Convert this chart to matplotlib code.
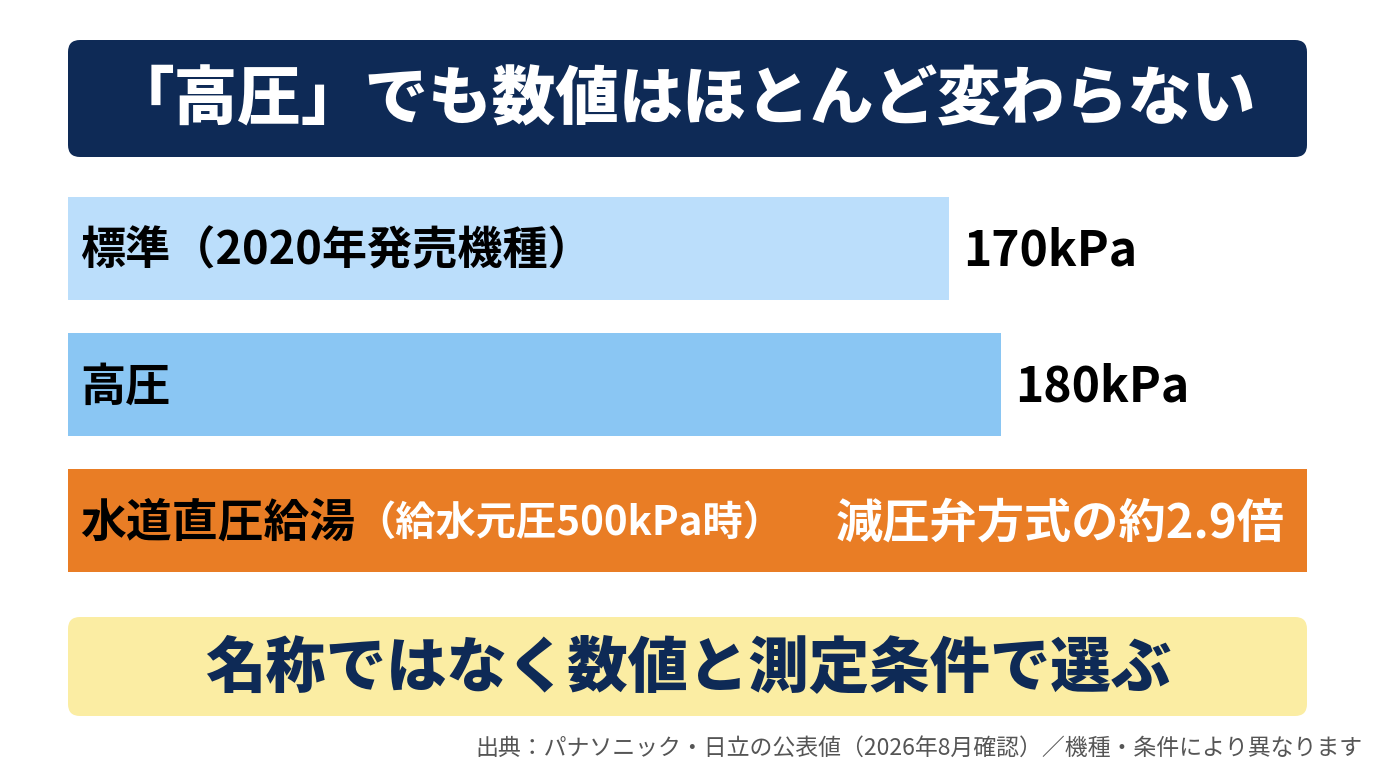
import matplotlib
matplotlib.use("Agg")
import matplotlib.pyplot as plt
from matplotlib.patches import FancyBboxPatch

plt.rcParams['font.family'] = ['Noto Sans CJK JP', 'DejaVu Sans']

# データ
title = "「高圧」でも数値はほとんど変わらない"
labels = ["標準（2020年発売機種）", "高圧", "水道直圧給湯"]
values = [170, 180]          # kPa
unit = "kPa"
sub_label = "（給水元圧500kPa時）"
ratio_text = "減圧弁方式の約2.9倍"
message = "名称ではなく数値と測定条件で選ぶ"
source = "出典：パナソニック・日立の公表値（2026年8月確認）／機種・条件により異なります"

NAVY = "#0E2A56"
bar_colors = ["#BBDEFB", "#8AC6F3", "#E97D25"]
YELLOW = "#FBEDA3"

W, H = 1376, 768
fig = plt.figure(figsize=(W / 100, H / 100), dpi=100)

# 背景用の全面軸（ピクセル座標）
bg = fig.add_axes([0, 0, 1, 1])
bg.set_xlim(0, W)
bg.set_ylim(H, 0)
bg.axis("off")

# タイトル帯
bg.add_patch(FancyBboxPatch((68, 40), 1239, 117, boxstyle="round,pad=0,rounding_size=12",
                            fc=NAVY, ec="none"))
bg.text(W / 2 - 5, 101, title, color="white", fontsize=45.8, fontweight="heavy",
        ha="center", va="center")

# 結論の帯
bg.add_patch(FancyBboxPatch((68, 617), 1239, 99, boxstyle="round,pad=0,rounding_size=12",
                            fc=YELLOW, ec="none"))
bg.text(688, 668, message, color=NAVY, fontsize=43.5, fontweight="heavy",
        ha="center", va="center")

# 出典
bg.text(1362, 748, source, color="#555555", fontsize=16.5, ha="right", va="center")

# 棒グラフ
ax = fig.add_axes([68 / W, 1 - 572 / H, 1239 / W, 375 / H])
xmax = 239
ax.set_xlim(0, xmax)
bh = 0.757
ax.set_ylim(2 + bh / 2, -bh / 2)
ax.axis("off")

widths = values + [xmax]
ax.barh(range(3), widths, height=bh, color=bar_colors)

for i, lab in enumerate(labels):
    t = ax.annotate(lab, xy=(0, i), xytext=(12, -3), textcoords="offset pixels",
                    fontsize=32.5 if i < 2 else 33, fontweight="bold", color="black",
                    ha="left", va="center")
    if i < len(values):
        ax.annotate(f"{values[i]}{unit}", xy=(values[i], i), xytext=(14, -3),
                    textcoords="offset pixels", fontsize=34.5, fontweight="bold",
                    color="black", ha="left", va="center")
    else:
        ax.annotate(sub_label, xy=(1, 0.5), xycoords=t, fontsize=29, fontweight="bold",
                    color="white", ha="left", va="center")
        ax.annotate(ratio_text, xy=(xmax, i), xytext=(-22, -3), textcoords="offset pixels",
                    fontsize=34, fontweight="bold", color="white", ha="right", va="center")

fig.savefig("out.png", dpi=100, facecolor="white")
